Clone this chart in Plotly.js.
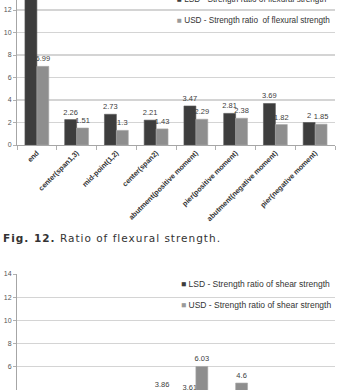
<!DOCTYPE html>
<html>
<head>
<meta charset="utf-8">
<script src="https://cdn.plot.ly/plotly-3.0.1.min.js"></script>
<style>
  html, body { margin: 0; padding: 0; background: #fff; }
  #chart { width: 338px; height: 390px; }
</style>
</head>
<body>
<div id="chart"></div>
<script>
// Locations along the bridge
const categories = [
  "end",
  "center(span1,3)",
  "mid-point(1,2)",
  "center(span2)",
  "abutment(positive moment)",
  "pier(positive moment)",
  "abutment(negative moment)",
  "pier(negative moment)"
];

// Fig. 12 - flexural strength ratios
const lsdFlexural = [13.5, 2.26, 2.73, 2.21, 3.47, 2.81, 3.69, 2];
const usdFlexural = [6.99, 1.51, 1.3, 1.43, 2.29, 2.38, 1.82, 1.85];

// Shear strength ratios (only the upper part of this chart is shown)
const lsdShear = [null, null, null, null, 3.61, null, null, null];
const usdShear = [null, null, null, 3.86, 6.03, 4.6, null, null];

const LSD_COLOR = "#3d3d3d";
const USD_COLOR = "#8e8e8e";
const W = 338, H = 390, ML = 17, MR = 3;
const plotW = W - ML - MR;
const px = x => (x - ML) / plotW;   // pixel x -> paper x
const py = y => 1 - y / H;          // pixel y -> paper y

const valueFont = { family: "Liberation Sans, Arial, sans-serif", size: 7.5, color: "#404040" };

function barTrace(values, name, color, xa, ya) {
  return {
    type: "bar",
    x: categories,
    y: values,
    name: name,
    xaxis: xa,
    yaxis: ya,
    marker: { color: color, line: { color: color === LSD_COLOR ? "#555" : "#a8a8a8", width: 0.6 } },
    text: values.map(v => (v === null ? "" : String(v))),
    textposition: "outside",
    textfont: valueFont,
    constraintext: "none",
    cliponaxis: true,
    hoverinfo: "skip",
    showlegend: false
  };
}

const data = [
  barTrace(lsdFlexural, "LSD - Strength ratio of flexural strength", LSD_COLOR, "x", "y"),
  barTrace(usdFlexural, "USD - Strength ratio of flexural strength", USD_COLOR, "x", "y"),
  barTrace(lsdShear, "LSD - Strength ratio of shear strength", LSD_COLOR, "x2", "y2"),
  barTrace(usdShear, "USD - Strength ratio of shear strength", USD_COLOR, "x2", "y2")
];

const tickFont = { family: "Liberation Sans, Arial, sans-serif", size: 7, color: "#555" };
const catFont = { family: "Liberation Sans, Arial, sans-serif", size: 7.2, color: "#333", weight: "bold" };

function xAxis(anchor, showLabels) {
  return {
    anchor: anchor,
    domain: [0, 1],
    type: "category",
    tickangle: -45,
    tickfont: catFont,
    showticklabels: showLabels,
    ticks: "outside",
    tickson: "boundaries",
    ticklen: 4,
    tickcolor: "#b0b0b0",
    showline: true,
    linecolor: "#a6a6a6",
    linewidth: 1,
    showgrid: false,
    automargin: false,
    fixedrange: true
  };
}

function yAxis(anchor, domain, range) {
  return {
    anchor: anchor,
    domain: domain,
    range: range,
    dtick: 2,
    tick0: 0,
    tickfont: tickFont,
    ticks: "outside",
    ticklen: 3,
    tickcolor: "#b0b0b0",
    showline: true,
    linecolor: "#a6a6a6",
    linewidth: 1,
    showgrid: true,
    gridcolor: "#d4d4d4",
    gridwidth: 1.2,
    zeroline: false,
    automargin: false,
    fixedrange: true
  };
}

const legendFont = { family: "Liberation Sans, Arial, sans-serif", size: 8.2, color: "#333" };
const legendFont2 = { family: "Liberation Sans, Arial, sans-serif", size: 8.5, color: "#333" };

function legendItem(text, color, xPix, yPix, font) {
  return {
    xref: "paper", yref: "paper",
    x: px(xPix), y: py(yPix),
    xanchor: "left", yanchor: "middle",
    showarrow: false,
    text: '<span style="color:' + color + '">■</span> ' + text,
    font: font
  };
}

const layout = {
  width: W,
  height: H,
  margin: { l: ML, r: MR, t: 0, b: 0, pad: 0 },
  paper_bgcolor: "#ffffff",
  plot_bgcolor: "#ffffff",
  barmode: "group",
  bargap: 0.4,
  bargroupgap: 0,
  showlegend: false,
  xaxis: xAxis("y", true),
  yaxis: yAxis("x", [py(145), 1], [0, 12.89]),
  xaxis2: xAxis("y2", false),
  yaxis2: yAxis("x2", [0, py(274)], [4, 14]),
  annotations: [
    legendItem("LSD - Strength ratio of flexural strength", LSD_COLOR, 175, -1, legendFont),
    legendItem("USD - Strength ratio  of flexural strength", "#9a9a9a", 175, 20.5, legendFont),
    legendItem("LSD - Strength ratio of shear strength", LSD_COLOR, 179, 283.5, legendFont2),
    legendItem("USD - Strength ratio of shear strength", "#9a9a9a", 179, 304.5, legendFont2),
    {
      xref: "paper", yref: "paper",
      x: px(1), y: py(238),
      xanchor: "left", yanchor: "middle",
      showarrow: false,
      text: '<span style="letter-spacing:1px"><b>Fig. 12.</b> Ratio of flexural strength.</span>',
      font: { family: "DejaVu Sans, sans-serif", size: 10.5, color: "#333" }
    }
  ]
};

Plotly.newPlot("chart", data, layout, { displayModeBar: false, staticPlot: true });
</script>
</body>
</html>
